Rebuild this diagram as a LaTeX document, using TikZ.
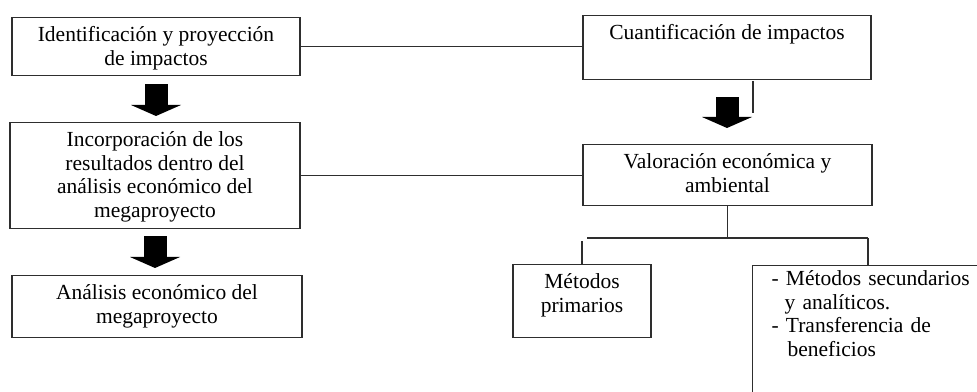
\documentclass[tikz,border=0pt]{standalone}
\usepackage{fontspec}
\setmainfont{Liberation Serif}
\usepackage{tikz}
\usetikzlibrary{arrows.meta,calc}
\definecolor{BoxLine}{HTML}{2E2E2E}
\newcommand{\arriba}[1][24]{\rule{0pt}{#1pt}}
\newcommand{\abajo}[1]{\rule[-#1pt]{0pt}{#1pt}}

\begin{document}
\begin{tikzpicture}[x=1pt,y=1pt,
 box/.style={draw=BoxLine,line width=1.2pt,align=center,inner sep=0pt,
             font=\fontsize{21.5}{23.5}\selectfont},
 blockarrow/.style={line width=23pt,-{Triangle[length=11pt,width=50pt,line width=0pt]}},
 link/.style={draw=BoxLine,line width=1.2pt}]
\useasboundingbox (0,0) rectangle (977,391);
\clip (0,0) rectangle (977,391);
% left column
\node[box,anchor=north,minimum width=288pt] (ident) at (156,374)
  {\arriba Identificación y proyección\\de impactos\abajo{10.5}};
\node[box,anchor=north,minimum width=290pt] (incorp) at (155,269)
  {\arriba Incorporación de los\\resultados dentro del\\análisis económico del\\megaproyecto\abajo{11.5}};
\node[box,anchor=north,minimum width=290pt] (anal) at (157,116)
  {\arriba Análisis económico del\\megaproyecto\abajo{14.5}};
% right column
\node[box,anchor=north,minimum width=288pt] (cuant) at (727,376)
  {\arriba Cuantificación de impactos\abajo{40}};
\node[box,anchor=north,minimum width=289pt] (valor) at (727.5,247)
  {\arriba Valoración económica y\\ambiental\abajo{13.5}};
\node[box,anchor=north,minimum width=138pt] (prim) at (582,127)
  {\arriba Métodos\\primarios\abajo{25.5}};
\node[box,anchor=north west,align=left,text width=220pt,inner xsep=19pt] (secund) at (752,126)
  {\arriba[20]- Métodos secundarios\\\hspace*{13pt}y analíticos.\\- Transferencia de\\\hspace*{16pt}beneficios\abajo{60}};
% block arrows
\draw[blockarrow,shorten <=8pt,shorten >=6pt] (ident.south) -- (ident.south |- incorp.north);
\draw[blockarrow,shorten <=7pt,shorten >=7pt] (incorp.south) -- (incorp.south |- anal.north);
\draw[blockarrow,shorten <=17pt,shorten >=16pt] (cuant.south) -- (cuant.south |- valor.north);
% plain lines
\draw[link] (ident.east) -- (ident.east -| cuant.west);
\draw[link] (incorp.east) -- (incorp.east -| valor.west);
\coordinate (marca) at (753,310);
\draw[link] (marca) -- ++(0,-32);
\coordinate (ramaI) at (587,153);
\coordinate (ramaD) at (868,153);
\draw[link] (valor.south) -- (valor.south |- ramaD);
\draw[link] (ramaI) -- (ramaD);
\draw[link] (ramaD) -- (ramaD |- secund.north);
\draw[link] (prim.north) -- ++(0,23);
\end{tikzpicture}
\end{document}
